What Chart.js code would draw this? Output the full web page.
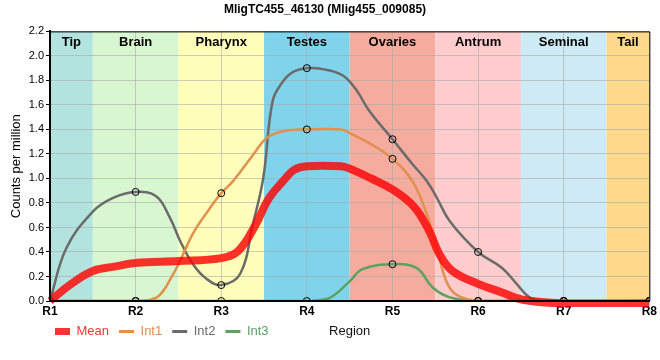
<!DOCTYPE html>
<html>
<head>
<meta charset="utf-8">
<script src="https://cdn.jsdelivr.net/npm/chart.js@4"></script>
<style>
  html, body { margin: 0; padding: 0; background: #fff; }
  #wrap { width: 660px; height: 360px; }
</style>
</head>
<body>
<div id="wrap"><canvas id="myChart"></canvas></div>
<script>
// Region ticks and tissue bands
let regions = ['R1', 'R2', 'R3', 'R4', 'R5', 'R6', 'R7', 'R8'];
let bandNames = ['Tip', 'Brain', 'Pharynx', 'Testes', 'Ovaries', 'Antrum', 'Seminal', 'Tail'];
let bandColors = ['#b3e3de', '#d8f6d0', '#ffffb9', '#7fd3eb', '#f5ab9d', '#fecccc', '#ceebf5', '#fed98b'];

// Curves (x = region position, R1 = 1)
let meanX = [1, 1.25, 1.5, 1.75, 2, 2.5, 3, 3.2, 3.4, 3.55, 3.75, 3.85, 4, 4.4, 4.5, 4.75, 5, 5.25, 5.43, 5.55, 5.7, 6, 6.28, 6.52, 7, 8];
let meanY = [0, 0.14, 0.245, 0.28, 0.31, 0.326, 0.35, 0.41, 0.62, 0.83, 1.0, 1.07, 1.1, 1.1, 1.08, 1.0, 0.91, 0.77, 0.57, 0.38, 0.245, 0.14, 0.07, 0.01, -0.02, -0.02];

let int1X = [1, 2, 2.25, 2.44, 2.52, 2.67, 2.83, 3, 3.14, 3.38, 3.53, 3.72, 4, 4.4, 4.5, 4.75, 5, 5.23, 5.4, 5.52, 5.63, 5.75, 6, 7, 8];
let int1Y = [0, 0, 0.03, 0.22, 0.33, 0.55, 0.72, 0.88, 0.98, 1.2, 1.33, 1.385, 1.4, 1.4, 1.37, 1.28, 1.16, 0.98, 0.71, 0.43, 0.16, 0.05, 0, 0, 0];

let int2X = [1, 1.19, 1.5, 1.73, 2, 2.24, 2.4, 2.52, 2.67, 2.83, 3, 3.22, 3.37, 3.49, 3.6, 3.72, 3.84, 4, 4.2, 4.42, 4.58, 4.73, 5, 5.23, 5.4, 5.52, 5.67, 6, 6.28, 6.45, 6.6, 6.75, 7, 8];
let int2Y = [0, 0.43, 0.73, 0.84, 0.89, 0.855, 0.68, 0.49, 0.30, 0.18, 0.13, 0.22, 0.63, 1.0, 1.63, 1.79, 1.87, 1.9, 1.89, 1.84, 1.72, 1.55, 1.32, 1.12, 0.98, 0.84, 0.65, 0.40, 0.27, 0.14, 0.03, 0, 0, 0];

let int3X = [1, 2, 3, 4, 4.1, 4.27, 4.5, 4.65, 5, 5.28, 5.47, 5.67, 6, 7, 8];
let int3Y = [0, 0, 0, 0, 0.005, 0.025, 0.16, 0.26, 0.30, 0.27, 0.11, 0.03, 0, 0, 0];

function pts(xs, ys)
{
    return xs.map(function (x, i) { return {x: x, y: ys[i]}; });
}

// markers only on the region positions
function markerRadius(ctx)
{
    return Number.isInteger(ctx.raw.x) ? 3.5 : 0;
}

let bandsPlugin =
{
    id: 'bands',
    afterLayout: function (chart)
    {
        // legend sits left under the plot, same row as the axis title
        chart.legend.left = 45;
    },
    beforeDraw: function (chart)
    {
        let c = chart.ctx, a = chart.chartArea, xs = chart.scales.x;
        c.save();
        bandNames.forEach(function (name, i)
        {
            let x0 = Math.max(xs.getPixelForValue(i + 0.5), a.left);
            let x1 = Math.min(xs.getPixelForValue(i + 1.5), a.right);
            c.fillStyle = bandColors[i];
            c.fillRect(x0, a.top, x1 - x0, a.bottom - a.top);
        });
        c.restore();
    },
    afterDraw: function (chart)
    {
        let c = chart.ctx, a = chart.chartArea, xs = chart.scales.x;
        c.save();
        c.font = 'bold 13px "Liberation Sans", Arial, sans-serif';
        c.fillStyle = '#000';
        c.textAlign = 'center';
        c.textBaseline = 'middle';
        bandNames.forEach(function (name, i)
        {
            let x0 = Math.max(xs.getPixelForValue(i + 0.5), a.left);
            let x1 = Math.min(xs.getPixelForValue(i + 1.5), a.right);
            c.fillText(name, (x0 + x1) / 2, a.top + 11);
        });
        // thin frame on top and right
        c.strokeStyle = '#000';
        c.lineWidth = 1;
        c.beginPath();
        c.moveTo(a.left, a.top + 0.5);
        c.lineTo(a.right + 0.5, a.top + 0.5);
        c.lineTo(a.right + 0.5, a.bottom);
        c.stroke();
        // x axis title on the legend row
        let lg = chart.legend;
        c.font = '13px "Liberation Sans", Arial, sans-serif';
        c.fillStyle = '#111';
        c.fillText('Region', (a.left + a.right) / 2, lg.legendHitBoxes.length ? lg.legendHitBoxes[0].top + lg.legendHitBoxes[0].height / 2 : lg.top + 16);
        c.restore();
    }
};

let myChart = document.getElementById('myChart').getContext('2d');

let chart_1 = new Chart(myChart,
{
    type: 'line',
    data:
    {
        datasets:
        [
            {
                label: 'Mean',
                data: pts(meanX, meanY),
                borderColor: 'rgba(255,0,0,0.8)',
                backgroundColor: 'rgba(255,0,0,0.8)',
                borderWidth: 8,
                pointRadius: 0,
                tension: 0.4,
                clip: 6
            },
            {
                label: 'Int1',
                data: pts(int1X, int1Y),
                borderColor: '#e0904f',
                backgroundColor: '#e0904f',
                borderWidth: 2.5,
                pointRadius: markerRadius,
                pointBorderColor: '#000',
                pointBackgroundColor: 'rgba(0,0,0,0)',
                pointBorderWidth: 1,
                tension: 0.4
            },
            {
                label: 'Int2',
                data: pts(int2X, int2Y),
                borderColor: '#6b6b6b',
                backgroundColor: '#6b6b6b',
                borderWidth: 2.5,
                pointRadius: markerRadius,
                pointBorderColor: '#000',
                pointBackgroundColor: 'rgba(0,0,0,0)',
                pointBorderWidth: 1,
                tension: 0.4
            },
            {
                label: 'Int3',
                data: pts(int3X, int3Y),
                borderColor: '#5da060',
                backgroundColor: '#5da060',
                borderWidth: 2.5,
                pointRadius: markerRadius,
                pointBorderColor: '#000',
                pointBackgroundColor: 'rgba(0,0,0,0)',
                pointBorderWidth: 1,
                tension: 0.4
            }
        ]
    },
    options:
    {
        responsive: true,
        maintainAspectRatio: false,
        animation: false,
        layout: { padding: { left: 0, right: 10, top: 0, bottom: 12 } },
        plugins:
        {
            title:
            {
                display: true,
                text: 'MligTC455_46130 (Mlig455_009085)',
                color: '#000',
                font: { size: 12, weight: 'bold', family: '"Liberation Sans", Arial, sans-serif' },
                padding: { top: 2, bottom: 15 }
            },
            legend:
            {
                position: 'bottom',
                align: 'start',
                labels:
                {
                    usePointStyle: true,
                    pointStyleWidth: 15,
                    boxHeight: 8,
                    padding: 10,
                    font: { size: 13, family: '"Liberation Sans", Arial, sans-serif' },
                    generateLabels: function (chart)
                    {
                        return chart.data.datasets.map(function (ds, i)
                        {
                            return {
                                text: ds.label,
                                fillStyle: ds.borderColor,
                                strokeStyle: ds.borderColor,
                                fontColor: ds.borderColor,
                                lineWidth: i === 0 ? 7 : 3,
                                pointStyle: 'line',
                                datasetIndex: i
                            };
                        });
                    }
                }
            },
            tooltip: { enabled: false }
        },
        scales:
        {
            x:
            {
                type: 'linear',
                min: 1,
                max: 8,
                afterFit: function (s) { s.height = 14; },
                afterBuildTicks: function (s) { s.ticks = regions.map(function (r, i) { return {value: i + 1}; }); },
                ticks:
                {
                    autoSkip: false,
                    maxRotation: 0,
                    padding: 3,
                    color: '#000',
                    font: { size: 12, weight: 'bold', family: '"Liberation Sans", Arial, sans-serif' },
                    callback: function (v) { return regions[v - 1]; }
                },
                grid: { color: 'rgba(170,170,170,0.6)', tickLength: 0 },
                border: { color: '#000', width: 2, z: 1 }
            },
            y:
            {
                min: 0,
                max: 2.2,
                afterFit: function (s) { s.width = 50; },
                ticks:
                {
                    stepSize: 0.2,
                    padding: 2,
                    color: '#000',
                    font: { size: 11, family: '"Liberation Sans", Arial, sans-serif' },
                    callback: function (v) { return v.toFixed(1); }
                },
                grid: { color: 'rgba(170,170,170,0.6)', tickLength: 4, tickColor: '#000' },
                border: { color: '#000', width: 2, z: 1 },
                title:
                {
                    display: true,
                    text: 'Counts per million',
                    color: '#000',
                    font: { size: 13, family: '"Liberation Sans", Arial, sans-serif' },
                    padding: { top: 9, bottom: 0 }
                }
            }
        }
    },
    plugins: [bandsPlugin]
});
</script>
</body>
</html>
